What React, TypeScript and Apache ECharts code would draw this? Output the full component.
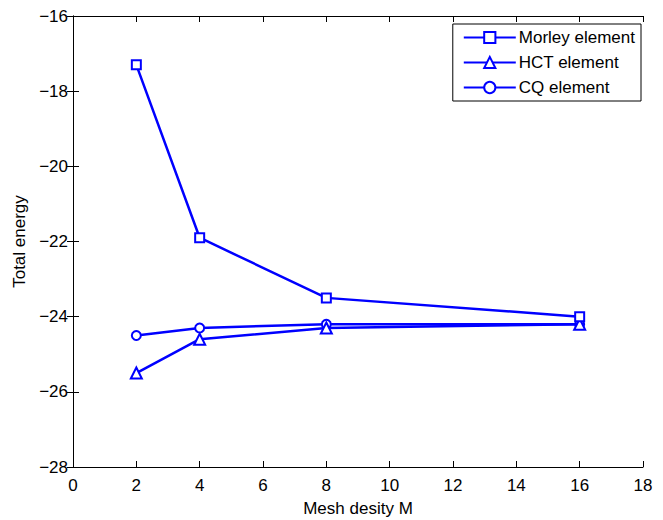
import React, { useEffect, useRef } from "react";
import * as echarts from "echarts";

const meshX = [2, 4, 8, 16];
const morley = [-17.3, -21.9, -23.5, -24.0];
const hct = [-25.5, -24.6, -24.3, -24.2];
const cq = [-24.5, -24.3, -24.2, -24.2];
const seriesNames = ["Morley element", "HCT element", "CQ element"];
const symbols = ["emptyRect", "emptyTriangle", "emptyCircle"];

const minusFmt = (v: number) => String(v).replace("-", "\u2212");

export default function App() {
  const ref = useRef<HTMLDivElement>(null);
  useEffect(() => {
    if (!ref.current) return;
    const chart = echarts.init(ref.current, undefined, { renderer: "svg" });
    const font = "Liberation Sans, Arial, Helvetica, sans-serif";
    const fs = 17;
    const datasets = [morley, hct, cq];
    const axisCommon = {
      axisLine: { show: true, lineStyle: { color: "#000", width: 1 } },
      axisTick: { show: true, inside: true, length: 6, lineStyle: { color: "#000" } },
      splitLine: { show: false },
    };
    chart.setOption({
      animation: false,
      backgroundColor: "#fff",
      textStyle: { fontFamily: font },
      grid: { left: 73, right: 20, top: 16, bottom: 53, containLabel: false, outerBoundsMode: "none" },
      legend: {
        orient: "vertical",
        right: 22,
        top: 24,
        data: seriesNames,
        itemWidth: 52,
        itemHeight: 14,
        itemGap: 8,
        padding: [5, 6, 5, 10],
        borderColor: "#000",
        borderWidth: 1,
        backgroundColor: "#fff",
        textStyle: { fontSize: fs, color: "#000", fontFamily: font, padding: [0, 0, 0, -2] },
      },
      xAxis: [
        {
          type: "value",
          min: 0,
          max: 18,
          interval: 2,
          name: "Mesh desity M",
          nameLocation: "middle",
          nameGap: 33,
          nameTextStyle: { fontSize: fs, color: "#000", fontFamily: font },
          axisLabel: { fontSize: fs, color: "#000", margin: 10, fontFamily: font },
          ...axisCommon,
        },
        {
          type: "value",
          position: "top",
          min: 0,
          max: 18,
          interval: 2,
          axisLabel: { show: false },
          ...axisCommon,
        },
      ],
      yAxis: [
        {
          type: "value",
          min: -28,
          max: -16,
          interval: 2,
          name: "Total energy",
          nameLocation: "middle",
          nameGap: 44,
          nameTextStyle: { fontSize: fs, color: "#000", fontFamily: font },
          axisLabel: { fontSize: fs, color: "#000", margin: 5, formatter: minusFmt, fontFamily: font },
          ...axisCommon,
        },
        {
          type: "value",
          position: "right",
          min: -28,
          max: -16,
          interval: 2,
          axisLabel: { show: false },
          ...axisCommon,
        },
      ],
      series: seriesNames.map((name, i) => ({
        name,
        type: "line",
        xAxisIndex: 0,
        yAxisIndex: 0,
        data: meshX.map((x, j) => [x, datasets[i][j]]),
        symbol: symbols[i],
        symbolSize: i === 1 ? 11 : 9,
        showAllSymbol: true,
        lineStyle: { color: "#0000ff", width: 2.5 },
        itemStyle: { color: "#0000ff", borderColor: "#0000ff", borderWidth: 2.2 },
        emphasis: { disabled: true },
        z: 3 - i,
      })),
    });
    return () => chart.dispose();
  }, []);
  return <div ref={ref} style={{ width: 663, height: 520, marginLeft: -8, marginTop: -8 }} />;
}
